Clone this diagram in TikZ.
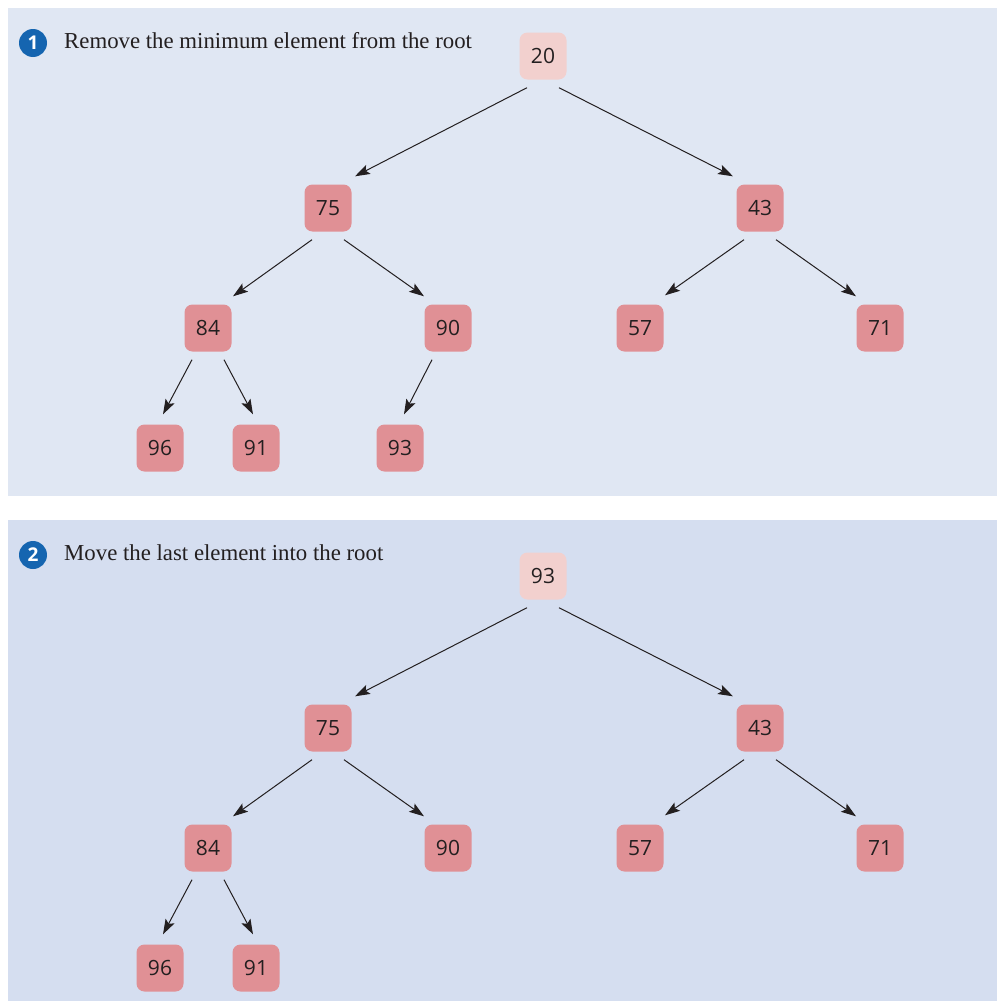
\documentclass[tikz,border=0pt]{standalone}
\usepackage{fontspec}
\setmainfont{Liberation Serif}
\newfontfamily\keyfont{Open Sans}
\usetikzlibrary{arrows.meta, calc}

\definecolor{panelA}{RGB}{224,231,243}
\definecolor{panelB}{RGB}{213,222,240}
\definecolor{heapfill}{RGB}{224,144,149}
\definecolor{rootfill}{RGB}{242,208,206}
\definecolor{badgeblue}{RGB}{21,101,176}
\definecolor{inkdark}{RGB}{35,31,32}

\tikzset{
  key/.style={fill=heapfill, rounded corners=8pt, minimum width=47pt, minimum height=47pt,
    inner sep=0pt, text=inkdark, font=\keyfont\fontsize{21}{21}\selectfont},
  rootkey/.style={key, fill=rootfill},
  badge/.style={circle, fill=badgeblue, minimum size=28pt, inner sep=0pt, text=white,
    font=\keyfont\bfseries\fontsize{19}{19}\selectfont},
  caption/.style={anchor=base west, inner sep=0pt, text=inkdark, font=\fontsize{22.8}{22.8}\selectfont},
  link/.style={-{Stealth[length=15pt,width=10pt,inset=3pt]}, line width=1pt, draw=inkdark}
}

\begin{document}
\begin{tikzpicture}[x=1pt, y=-1pt]
  \useasboundingbox (0,0) rectangle (998,1001);
  \fill[white] (0,0) rectangle (998,1001);
  \fill[panelA] (8,8) rectangle (997,496);
  \fill[panelB] (8,520) rectangle (997,1001);

  % step 1
  \node[badge] (s1) at (33,43) {1};
  \node[caption] (t1) at (64,48) {Remove the minimum element from the root};
  \node[rootkey] (A20) at (543,56) {20};
  \node[key] (A75) at (328,208) {75};
  \node[key] (A43) at (760,208) {43};
  \node[key] (A84) at (208,328) {84};
  \node[key] (A90) at (448,328) {90};
  \node[key] (A57) at (640,328) {57};
  \node[key] (A71) at (880,328) {71};
  \node[key] (A96) at (160,448) {96};
  \node[key] (A91) at (256,448) {91};
  \node[key] (A93) at (400,448) {93};

  \draw[link] ($(A20.south)+(-16,8)$) -- ($(A75.north)+(27,-8)$);
  \draw[link] ($(A20.south)+(16,8)$) -- ($(A43.north)+(-27,-8)$);
  \draw[link] ($(A75.south)+(-16,8)$) -- ($(A84.north)+(25,-8)$);
  \draw[link] ($(A75.south)+(16,8)$) -- ($(A90.north)+(-24,-8)$);
  \draw[link] ($(A43.south)+(-16,8)$) -- ($(A57.north)+(25,-9)$);
  \draw[link] ($(A43.south)+(16,8)$) -- ($(A71.north)+(-24,-8)$);
  \draw[link] ($(A84.south)+(-16,8)$) -- ($(A96.north)+(3,-10)$);
  \draw[link] ($(A84.south)+(16,8)$) -- ($(A91.north)+(-3,-10)$);
  \draw[link] ($(A90.south)+(-16,8)$) -- ($(A93.north)+(4,-10)$);

  % step 2
  \node[badge] (s2) at (33,555) {2};
  \node[caption] (t2) at (64,560) {Move the last element into the root};
  \node[rootkey] (B93) at (543,576) {93};
  \node[key] (B75) at (328,728) {75};
  \node[key] (B43) at (760,728) {43};
  \node[key] (B84) at (208,848) {84};
  \node[key] (B90) at (448,848) {90};
  \node[key] (B57) at (640,848) {57};
  \node[key] (B71) at (880,848) {71};
  \node[key] (B96) at (160,968) {96};
  \node[key] (B91) at (256,968) {91};

  \draw[link] ($(B93.south)+(-16,8)$) -- ($(B75.north)+(27,-8)$);
  \draw[link] ($(B93.south)+(16,8)$) -- ($(B43.north)+(-27,-8)$);
  \draw[link] ($(B75.south)+(-16,8)$) -- ($(B84.north)+(25,-8)$);
  \draw[link] ($(B75.south)+(16,8)$) -- ($(B90.north)+(-24,-8)$);
  \draw[link] ($(B43.south)+(-16,8)$) -- ($(B57.north)+(25,-9)$);
  \draw[link] ($(B43.south)+(16,8)$) -- ($(B71.north)+(-24,-8)$);
  \draw[link] ($(B84.south)+(-16,8)$) -- ($(B96.north)+(3,-10)$);
  \draw[link] ($(B84.south)+(16,8)$) -- ($(B91.north)+(-3,-10)$);
\end{tikzpicture}
\end{document}
